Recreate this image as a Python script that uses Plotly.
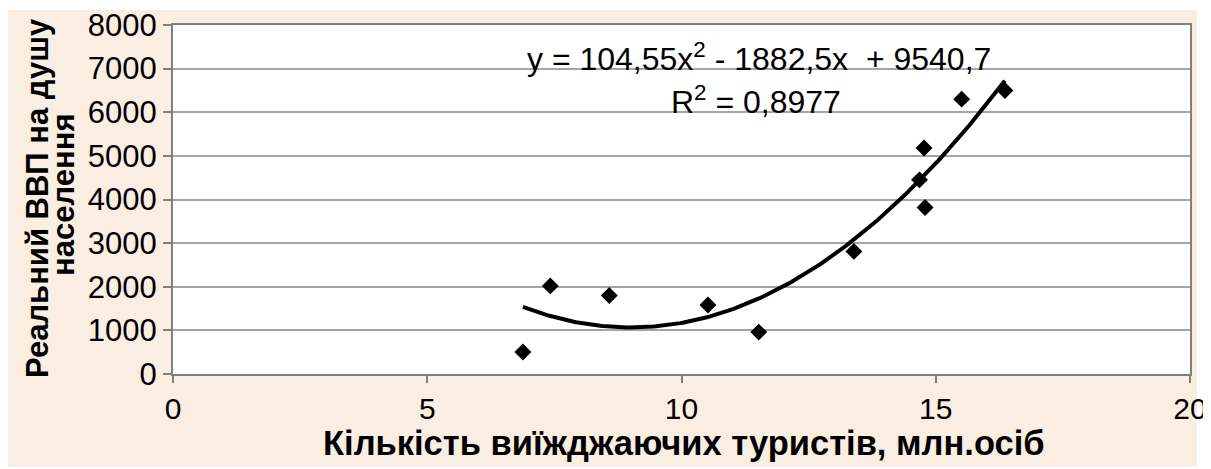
import numpy as np
import plotly.graph_objects as go

# Data
tourists_mln = [6.88, 7.42, 8.58, 10.52, 11.52, 13.39, 14.68, 14.77, 14.79, 15.51, 16.36]
gdp_per_capita = [505, 2020, 1800, 1580, 960, 2810, 4450, 5180, 3815, 6300, 6500]

# Polynomial trendline coefficients (from the chart label)
poly_a, poly_b, poly_c = 104.55, -1882.5, 9540.7
r_squared = "0,8977"

x_ticks = [0, 5, 10, 15, 20]
y_ticks = [0, 1000, 2000, 3000, 4000, 5000, 6000, 7000, 8000]

x_title = "Кількість виїжджаючих туристів, млн.осіб"
y_title_lines = ["Реальний ВВП на душу", "населення"]
eq_text = "y = 104,55x<sup>2</sup> - 1882,5x  + 9540,7"
r2_text = "R<sup>2</sup> = " + r_squared

xs = np.linspace(min(tourists_mln), max(tourists_mln), 200)
ys = poly_a * xs**2 + poly_b * xs + poly_c

BEIGE = "rgb(250,237,226)"
GRID = "rgb(165,165,165)"
BORDER = "rgb(128,128,128)"
FONT = "Liberation Sans, Arial, sans-serif"

fig = go.Figure()
fig.add_trace(go.Scatter(x=xs, y=ys, mode="lines",
                         line=dict(color="black", width=4), hoverinfo="skip"))
fig.add_trace(go.Scatter(x=tourists_mln, y=gdp_per_capita, mode="markers",
                         marker=dict(symbol="diamond", size=13, color="black")))

# page body margin is 8px; figure placed at (8, 8)
OX, OY = 8, 8
W, H = 1203, 461
L, R, T, B = 173 - OX, (OX + W) - 1190, 25 - OY, (OY + H) - 374
pw, ph = W - L - R, H - T - B

def px_x(p):
    return (p - OX - L) / pw

def px_y(p):
    return (H - B - (p - OY)) / ph

shapes = [
    dict(type="rect", xref="paper", yref="paper", layer="below",
         x0=px_x(8), x1=px_x(1197), y0=px_y(467), y1=px_y(10),
         fillcolor=BEIGE, line=dict(width=0)),
    dict(type="rect", xref="paper", yref="paper", layer="below",
         x0=0, x1=1, y0=0, y1=1, fillcolor="white", line=dict(width=0)),
]

annotations = [
    dict(text=eq_text, x=px_x(759), y=px_y(57), xref="paper", yref="paper", showarrow=False,
         xanchor="center", yanchor="middle", font=dict(size=32, color="black", family=FONT)),
    dict(text=r2_text, x=px_x(756), y=px_y(100), xref="paper", yref="paper", showarrow=False,
         xanchor="center", yanchor="middle", font=dict(size=32, color="black", family=FONT)),
    dict(text="<b>" + y_title_lines[0] + "</b>", x=px_x(37), y=px_y(198), xref="paper", yref="paper",
         textangle=-90, showarrow=False, xanchor="center", yanchor="middle",
         font=dict(size=31, color="black", family=FONT)),
    dict(text="<b>" + y_title_lines[1] + "</b>", x=px_x(63), y=px_y(195), xref="paper", yref="paper",
         textangle=-90, showarrow=False, xanchor="center", yanchor="middle",
         font=dict(size=31, color="black", family=FONT)),
    dict(text="<b>" + x_title + "</b>", x=px_x(684), y=px_y(443), xref="paper", yref="paper",
         showarrow=False, xanchor="center", yanchor="middle",
         font=dict(size=34.5, color="black", family=FONT)),
]

fig.update_layout(
    width=W, height=H,
    margin=dict(l=L, r=R, t=T, b=B, autoexpand=False),
    paper_bgcolor="white",
    plot_bgcolor="white",
    showlegend=False,
    shapes=shapes,
    annotations=annotations,
    font=dict(family=FONT, color="black"),
)
fig.update_xaxes(range=[0, 20], tickvals=x_ticks, showgrid=False, zeroline=False,
                 ticks="outside", ticklen=7, tickwidth=2, tickcolor=BORDER,
                 showline=True, linecolor=BORDER, linewidth=2, mirror=True, automargin=False,
                 ticklabeloverflow="allow",
                 tickfont=dict(size=30, family=FONT, color="black"))
fig.update_yaxes(range=[0, 8000], tickvals=y_ticks, showgrid=True, gridcolor=GRID, gridwidth=2,
                 zeroline=False, ticks="outside", ticklen=8, tickwidth=2, tickcolor=BORDER,
                 showline=True, linecolor=BORDER, linewidth=2, mirror=True, automargin=False,
                 ticklabeloverflow="allow",
                 tickfont=dict(size=31, family=FONT, color="black"))

fig.write_html("out.html")
